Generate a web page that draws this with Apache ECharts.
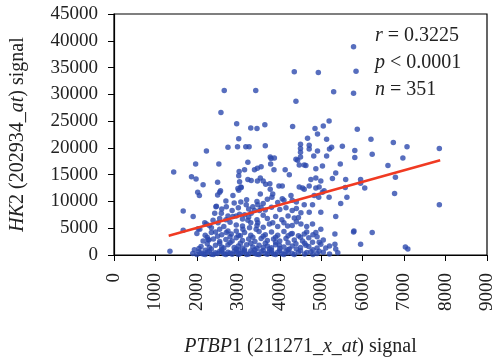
<!DOCTYPE html>
<html><head><meta charset="utf-8">
<script src="https://cdn.jsdelivr.net/npm/echarts@6/dist/echarts.min.js"></script>
<style>html,body{margin:0;padding:0;background:#fff}#c{width:500px;height:362px}</style>
</head><body><div id="c"></div>
<script>
// PTBP1 signal (x) vs HK2 signal (y)
const sparsePoints = [
[5780,38900],[4350,34200],[4930,34100],[5840,34300],[2660,30700],[3420,30700],[5300,30500],[5780,30200],[4390,28700],[2580,26600],[2960,24500],[3300,23700],[3450,23600],[3640,24300],[4310,24000],[4850,23600],[5050,24100],[5190,25000],[4910,22600],[5870,23500],[3010,21700],[4670,21800],[5130,21600],[6200,21600],[6740,21000],[7070,20200],[7850,19900],[6230,18800],[6970,18100],[6610,16700],[6790,14500],[6770,11500],[7850,9400],[6230,4200],[7030,1500],[7090,1100],
[3180,20200],[3260,20200],[2980,20200],[3650,20400],[4500,20700],[4500,19900],[4710,20500],[4710,19800],[5250,20100],[5200,19800],[5510,20300],[5810,19500],[4500,19200],[4910,19400],[4820,18500],[5130,18500],[5810,18200],[3770,18300],[3870,18100],[4390,17900],[4500,18300],[3230,17300],[3780,17000],[3550,16500],[3460,16200],[3150,15900],[3390,15900],[3860,15900],[4130,15900],[4470,16800],[4630,16700],[4870,16100],[5030,16600],[5460,17000],[5350,15300],
[2230,19400],[2750,20100],[1970,17000],[2530,17000],[1440,15500],[3020,15600],[1870,14600],[1980,14200],[2500,13600],[2150,13100],[3030,13700],[3230,14100],[2020,11700],[2060,11100],[2500,11200],[2550,11700],[2990,12400],[3070,12600],[2870,11100],[2460,9000],[2710,9000],[1670,8200],[1910,7200],[1670,4600],[1350,700],[2070,4800],[2230,5800],[2350,4200],[2270,2900],[1940,1000],
[3010,14800],[3310,13900],[3460,13800],[3530,14400],[3060,12700],[3010,12100],[2570,12000],[3060,9900],[3190,9400],[3350,9000],[3470,9400],[2470,9100],[2430,7800],[2590,7800],[2750,7300],[2870,7200],[3030,7600],[3150,7500],[3310,7800],[3390,8300],[3510,8300],[2390,6500],[2510,6000],[2190,6000],[2030,4900],[2350,5100],[2550,4800],[2290,2800],[2710,4200],[2830,3900],[2950,4500],[3110,4800],[3270,5100],[3430,4800],[3470,6000],[3230,6500],
[3790,18000],[3600,13800],[3660,13200],[3760,13300],[3530,11400],[3830,11400],[3980,12900],[4060,12900],[4230,15000],[4430,17700],[4590,16800],[4270,11100],[4300,10200],[4470,12700],[4550,12500],[4710,12900],[4870,12500],[4950,12700],[4830,11100],[4940,10800],[5030,11700],[4870,14400],[5270,14300],[5580,12600],[5590,14100],[5470,9600],[5350,7200],[5790,4500],[5330,3900],[5950,14100],[5950,13400],[4870,4200],[4790,2400],[4630,1800],[4390,2100],[4230,1100],[3990,1800],
[5780,4300],[5950,2000],[5330,2000],[5620,10800],[6050,12500],[5190,10800],[5070,12000],[4990,13800],[4750,14100],[4590,12300],[3770,12300],[3810,10800],[4060,10500],[4590,9400],[4790,9400],[4710,8000],[4510,7900],[4990,8000],[4510,5800],[4790,5800],[4990,4800],[4590,3900],[4990,2000],[5110,1300],[5350,1100],[4270,3900],[4190,5400],[3830,6000]
];
const densePoints = [
[1900,300],[2050,600],[2150,200],[2250,500],[2350,150],[2450,400],[2550,700],[2650,250],[2750,500],[2850,150],[2950,600],[3050,300],[3150,700],[3250,200],[3350,450],[3450,150],[3550,600],[3650,300],[3750,700],[3850,200],[3950,500],[4050,250],[4150,650],[4300,300],[4450,500],[4600,200],[4750,600],[4900,300],[5050,500],[5200,200],[5400,400],[2200,900],[2600,1000],[3000,950],[3400,1000],[3800,900],[4200,1000],
[2100,1600],[2300,1400],[2450,1800],[2600,1500],[2750,1900],[2900,1400],[3000,1700],[3100,1300],[3200,1900],[3350,1500],[3500,1800],[3600,1400],[3700,1700],[3800,1350],[3900,1900],[4100,1500],[4300,1700],[4500,1400],[4700,1600],[4900,1300],[5200,1700],
[2150,2600],[2400,3000],[2550,2500],[2700,2900],[2850,2600],[2950,3200],[3100,2700],[3250,3000],[3400,2500],[3550,3100],[3700,2700],[3850,3000],[4000,2600],[4150,3100],[4350,2800],[4550,2600],[4700,3200],[5050,2800],
[2000,4000],[2200,3700],[2450,4300],[2600,3800],[2750,4500],[3000,3700],[3150,4200],[3300,3700],[3500,4400],[3650,3800],[3800,4300],[3950,3700],[4100,4400],[4300,4000],[4450,3600],[4650,4300],[4800,3800],
[2300,5500],[2650,5300],[2800,6100],[2950,5600],[3100,5400],[3300,6000],[3450,5500],[3600,5200],[3750,5800],[3950,5300],[4100,6000],[4300,5500],[4400,6200],[4650,5300],
[2550,6800],[2700,6600],[2950,7300],[3100,6700],[3250,7100],[3450,6600],[3600,7400],[3700,6800],[3900,7200],[4050,6600],[4200,7300],[4350,6900],[4450,7000],
[2600,8600],[2850,8300],[3000,8800],[3250,8600],[3550,8800],[3650,8400],[3800,8900],[4000,8500],[4150,8800],[4300,8300],[4400,8700],
[2700,10100],[2900,9700],[3200,10300],[3450,10000],[3600,9600],[3700,10400],[3950,9800],[4100,10200],[4400,9900]
];
const bottomBandPoints = [
[2000,100],[2100,350],[2200,100],[2300,700],[2400,100],[2500,300],[2600,600],[2700,100],[2800,350],[2900,700],[3000,100],[3100,450],[3200,100],[3300,750],[3400,300],[3500,100],[3600,850],[3700,150],[3800,450],[3900,100],[4000,800],[4100,100],[4200,400],[4350,100],[4500,800],[4650,450],[4800,100],[4950,700],
[2050,1200],[2250,2100],[2350,1100],[2550,2200],[2650,1300],[2800,2300],[2950,1100],[3050,2200],[3150,1000],[3300,2200],[3450,1200],[3650,2200],[3750,1100],[3900,2400],[4000,1200],[4200,2300],[4400,1100],[4600,2200],[4800,1000],[4950,2400],
[2250,3300],[2500,3500],[2800,3400],[3050,3600],[3350,3300],[3600,3500],[3900,3300],[4200,3600],[4500,3300],[4900,3400]
];
const fitX = [1320, 7870];
const fitY = [3600, 17700];
const xTicks = {min: 0, max: 9000, interval: 1000};
const yTicks = {min: 0, max: 45000, interval: 5000};
const statLines = ['{i|r} = 0.3225', '{i|p} < 0.0001', '{i|n} = 351'];

const serif = 'Liberation Serif';
const chart = echarts.init(document.getElementById('c'));
const allPoints = sparsePoints.concat(densePoints, bottomBandPoints);
const plain = v => String(v);
chart.setOption({
  animation: false,
  grid: {left: 112, right: 13, top: 14, bottom: 99, show: true, borderColor: '#000', borderWidth: 1.2},
  xAxis: {
    type: 'value', min: xTicks.min, max: xTicks.max, interval: xTicks.interval,
    splitLine: {show: false},
    axisLine: {lineStyle: {color: '#000', width: 1.2}},
    axisTick: {inside: false, length: 6, lineStyle: {color: '#000'}},
    axisLabel: {rotate: 90, margin: 18, color: '#222', fontFamily: serif, fontSize: 19, formatter: plain},
    name: '{i|PTBP}1 (211271_{i|x_at}) signal',
    nameLocation: 'middle', nameGap: 82,
    nameTextStyle: {color: '#222', fontFamily: serif, fontSize: 20,
      rich: {i: {fontStyle: 'italic', fontFamily: serif, fontSize: 20, color: '#222'}}}
  },
  yAxis: {
    type: 'value', min: yTicks.min, max: yTicks.max, interval: yTicks.interval,
    splitLine: {show: false},
    axisLine: {lineStyle: {color: '#000', width: 1.2}},
    axisTick: {inside: false, length: 6, lineStyle: {color: '#000'}},
    axisLabel: {margin: 16, color: '#222', fontFamily: serif, fontSize: 19, formatter: plain},
    name: '{i|HK}2 (202934_{i|at}) signal',
    nameLocation: 'middle', nameGap: 86,
    nameTextStyle: {color: '#222', fontFamily: serif, fontSize: 20,
      rich: {i: {fontStyle: 'italic', fontFamily: serif, fontSize: 20, color: '#222'}}}
  },
  series: [
    {type: 'scatter', data: allPoints, symbolSize: 5.5, itemStyle: {color: '#2d4aae'}, z: 2},
    {type: 'line', data: fitX.map((x, i) => [x, fitY[i]]), symbol: 'none',
     lineStyle: {color: '#f03a22', width: 2.5}, z: 3}
  ],
  graphic: statLines.map((t, i) => ({
    type: 'text', left: 375, top: 26 + i * 27,
    style: {text: t, fill: '#222', font: '20px ' + serif,
      rich: {i: {fontStyle: 'italic', fontFamily: serif, fontSize: 20, fill: '#222'}}}
  }))
});
</script></body></html>
